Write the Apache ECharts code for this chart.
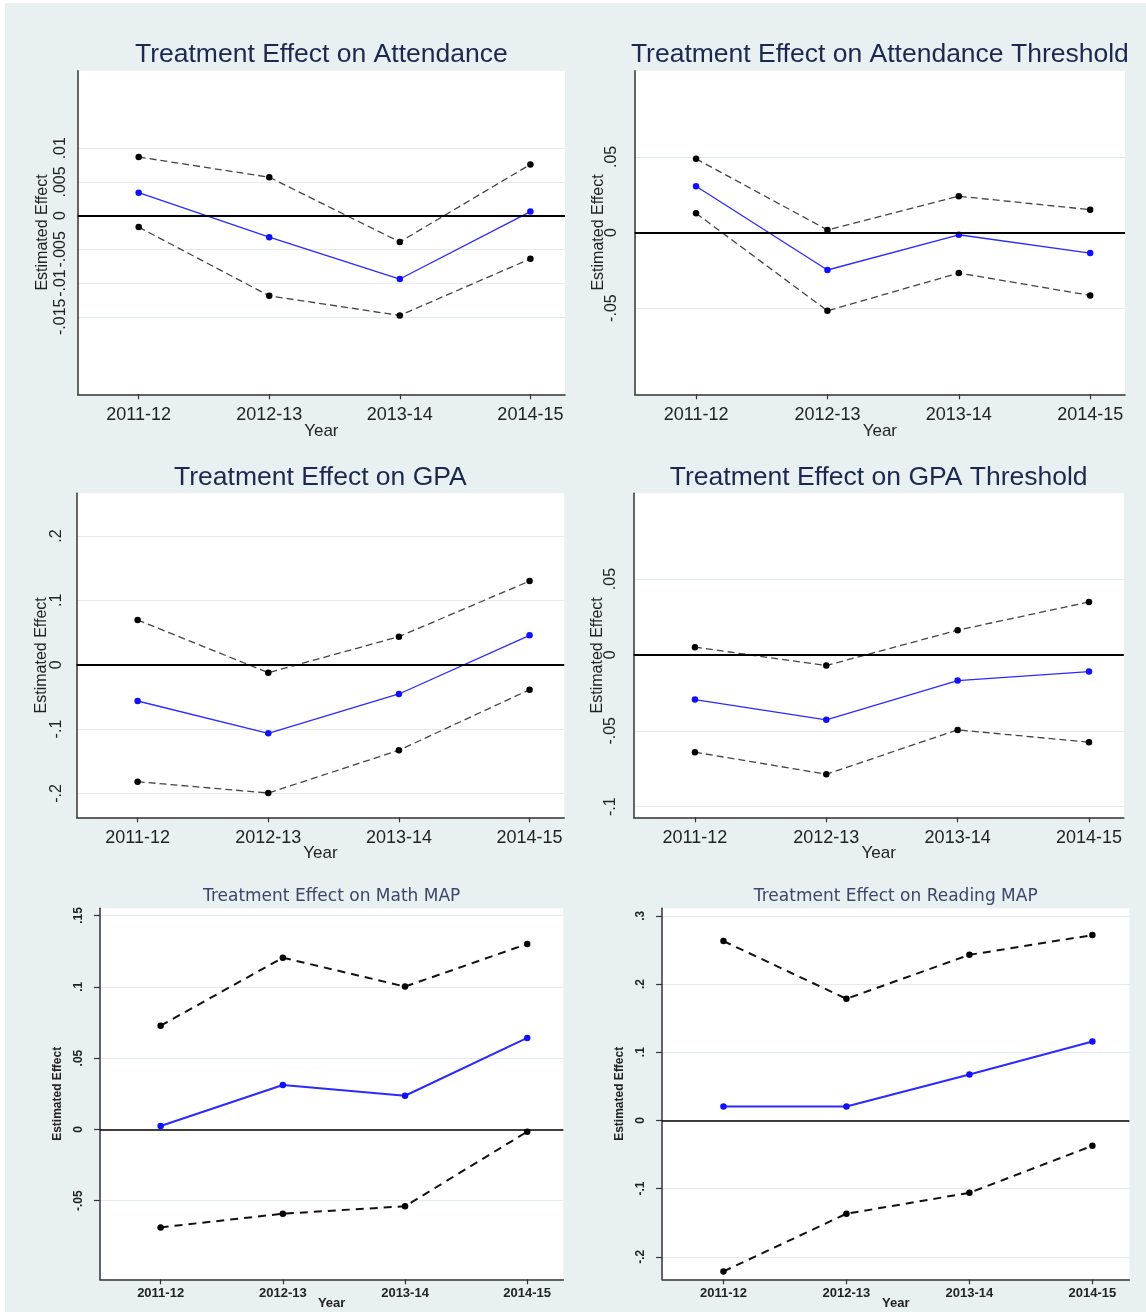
<!DOCTYPE html>
<html>
<head>
<meta charset="utf-8">
<title>Treatment Effects by Year</title>
<script src="https://cdn.jsdelivr.net/npm/echarts@6/dist/echarts.min.js"></script>
<style>
  html, body { margin: 0; padding: 0; background: #ffffff; }
  #wrap { position: relative; width: 1146px; height: 1312px; overflow: hidden; }
  #bg { position: absolute; left: 5px; top: 3px; width: 1141px; height: 1309px; background: #e8f0f2; }
  #chart { position: absolute; left: 0; top: 0; width: 1146px; height: 1312px; }
</style>
</head>
<body>
<div id="wrap"><div id="bg"></div><div id="chart"></div></div>
<script>
// School years on the x axis
const years = ['2011-12', '2012-13', '2013-14', '2014-15'];

// Attendance: point estimate and 95% confidence bounds
const attEst = [0.0034, -0.0032, -0.0094, 0.0006];
const attLo  = [-0.0017, -0.0119, -0.0148, -0.0064];
const attHi  = [0.0087, 0.0057, -0.0039, 0.0076];

// Attendance threshold
const attThrEst = [0.0306, -0.0248, -0.0015, -0.0136];
const attThrLo  = [0.0127, -0.0518, -0.0268, -0.0416];
const attThrHi  = [0.0487, 0.0017, 0.0240, 0.0151];

// GPA
const gpaEst = [-0.0564, -0.1066, -0.0455, 0.0457];
const gpaLo  = [-0.1818, -0.1994, -0.1330, -0.0388];
const gpaHi  = [0.0695, -0.0124, 0.0435, 0.1300];

// GPA threshold
const gpaThrEst = [-0.0294, -0.0428, -0.0169, -0.0110];
const gpaThrLo  = [-0.0641, -0.0786, -0.0494, -0.0575];
const gpaThrHi  = [0.0051, -0.0070, 0.0163, 0.0349];

// Math MAP
const mathEst = [0.0024, 0.0311, 0.0236, 0.0641];
const mathLo  = [-0.0687, -0.0591, -0.0539, -0.0016];
const mathHi  = [0.0727, 0.1204, 0.1001, 0.1300];

// Reading MAP
const readEst = [0.0205, 0.0205, 0.0674, 0.1158];
const readLo  = [-0.2214, -0.1369, -0.1062, -0.0372];
const readHi  = [0.2629, 0.1783, 0.2428, 0.2717];

// Y tick values for each panel
const attTicks    = [-0.015, -0.01, -0.005, 0, 0.005, 0.01];
const attThrTicks = [-0.05, 0, 0.05];
const gpaTicks    = [-0.2, -0.1, 0, 0.1, 0.2];
const gpaThrTicks = [-0.1, -0.05, 0, 0.05];
const mathTicks   = [-0.05, 0, 0.05, 0.1, 0.15];
const readTicks   = [-0.2, -0.1, 0, 0.1, 0.2, 0.3];

// Layout of the six panels (pixels) and their axis extents
const panels = [
  { title: 'Treatment Effect on Attendance', est: attEst, lo: attLo, hi: attHi, ticks: attTicks,
    grid: { left: 77.7, top: 70.7, width: 487.3, height: 323.6 }, xr: [0.533, 4.265], yr: [-0.0265, 0.0215],
    small: false, yLabelMargin: 9, yNameGap: 27, xLabelMargin: 12, xNameGap: 29, titleY: 55 },
  { title: 'Treatment Effect on Attendance Threshold', est: attThrEst, lo: attThrLo, hi: attThrHi, ticks: attThrTicks,
    grid: { left: 634.7, top: 70.7, width: 490.3, height: 323.6 }, xr: [0.533, 4.265], yr: [-0.107, 0.107],
    small: false, yLabelMargin: 15, yNameGap: 28, xLabelMargin: 12, xNameGap: 29, titleY: 55 },
  { title: 'Treatment Effect on GPA', est: gpaEst, lo: gpaLo, hi: gpaHi, ticks: gpaTicks,
    grid: { left: 76.6, top: 493.3, width: 487.6, height: 324 }, xr: [0.533, 4.265], yr: [-0.2371, 0.2663],
    small: false, yLabelMargin: 12, yNameGap: 27, xLabelMargin: 11.5, xNameGap: 28, titleY: 477.5 },
  { title: 'Treatment Effect on GPA Threshold', est: gpaThrEst, lo: gpaThrLo, hi: gpaThrHi, ticks: gpaThrTicks,
    grid: { left: 633.6, top: 493.3, width: 490.2, height: 324 }, xr: [0.533, 4.265], yr: [-0.107, 0.1065],
    small: false, yLabelMargin: 15, yNameGap: 28, xLabelMargin: 11.5, xNameGap: 28, titleY: 477.5 },
  { title: 'Treatment Effect on Math MAP', est: mathEst, lo: mathLo, hi: mathHi, ticks: mathTicks,
    grid: { left: 99.9, top: 908.3, width: 463.5, height: 371 }, xr: [0.503, 4.296], yr: [-0.1051, 0.155],
    small: true, yLabelMargin: 15, yNameGap: 36, xLabelMargin: 7.5, xNameGap: 17.5, titleY: 896.5 },
  { title: 'Treatment Effect on Reading MAP', est: readEst, lo: readLo, hi: readHi, ticks: readTicks,
    grid: { left: 662.1, top: 908.3, width: 467.3, height: 371 }, xr: [0.501, 4.301], yr: [-0.233, 0.311],
    small: true, yLabelMargin: 15, yNameGap: 36, xLabelMargin: 7.5, xNameGap: 17.5, titleY: 896.5 }
];

const FONT = '"Liberation Sans", Arial, sans-serif';
const INK = '#222226';

// Stata-style tick text: no leading zero
function stataNum(v) {
  if (Math.abs(v) < 1e-12) return '0';
  const s = String(+v.toFixed(4));
  return s.replace('0.', '.');
}

function pts(arr) { return arr.map((v, i) => [i + 1, v]); }

const grids = [], xAxes = [], yAxes = [], series = [], graphics = [];

panels.forEach((p, k) => {
  // fixed pixel boxes: keep ECharts from shrinking grids to fit labels
  grids.push(Object.assign({ show: true, backgroundColor: '#ffffff', borderWidth: 0, containLabel: false, outerBoundsMode: 'none' }, p.grid));

  xAxes.push({
    gridIndex: k, type: 'value', min: p.xr[0], max: p.xr[1],
    name: 'Year', nameLocation: 'middle', nameGap: p.xNameGap, nameMoveOverlap: false,
    nameTextStyle: { fontFamily: FONT, fontSize: p.small ? 13 : 17, fontWeight: p.small ? 'bold' : 'normal', color: INK },
    axisLine: { show: true, onZero: false, lineStyle: { color: '#333333', width: 1.5 } },
    axisTick: { show: true, customValues: [1, 2, 3, 4], length: 5, lineStyle: { color: '#333333', width: 1.2 } },
    axisLabel: { customValues: [1, 2, 3, 4], margin: p.xLabelMargin, formatter: v => years[Math.round(v) - 1],
      fontFamily: FONT, fontSize: p.small ? 13 : 18, fontWeight: p.small ? 'bold' : 'normal', color: INK },
    splitLine: { show: false }
  });

  yAxes.push({
    gridIndex: k, type: 'value', min: p.yr[0], max: p.yr[1],
    name: 'Estimated Effect', nameLocation: 'middle', nameGap: p.yNameGap, nameRotate: 90, nameMoveOverlap: false,
    nameTextStyle: p.small
      ? { fontFamily: '"Liberation Sans Narrow", "Liberation Sans", Arial, sans-serif', fontSize: 12, fontWeight: 'bold', color: INK }
      : { fontFamily: FONT, fontSize: 16, color: INK },
    axisLine: { show: true, onZero: false, lineStyle: { color: '#333333', width: 1.5 } },
    axisTick: { show: p.small, customValues: p.ticks, length: 6, lineStyle: { color: '#333333', width: 1.2 } },
    axisLabel: { customValues: p.ticks, rotate: 90, margin: p.yLabelMargin, formatter: stataNum,
      fontFamily: FONT, fontSize: p.small ? 12 : 16, fontWeight: p.small ? 'bold' : 'normal', color: INK },
    splitLine: { show: true, lineStyle: { color: '#e3edf1', width: 1 } }
  });

  const dashCol = p.small ? '#111111' : '#444444';
  const lw = p.small ? 2 : 1.3;
  const dash = p.small ? [8, 6] : [7, 4];
  [p.hi, p.lo].forEach(arr => {
    series.push({
      type: 'line', xAxisIndex: k, yAxisIndex: k, data: pts(arr),
      symbol: 'circle', symbolSize: 6.5, animation: false, silent: true, z: 3,
      lineStyle: { color: dashCol, width: lw, type: dash },
      itemStyle: { color: '#000000' }
    });
  });
  series.push({
    type: 'line', xAxisIndex: k, yAxisIndex: k, data: pts(p.est),
    symbol: 'circle', symbolSize: 6.5, animation: false, silent: true, z: 4,
    lineStyle: { color: '#2a2aff', width: p.small ? 2 : 1.3 },
    itemStyle: { color: '#1010ff' },
    markLine: {
      silent: true, symbol: 'none', animation: false, label: { show: false },
      lineStyle: { color: '#000000', width: p.small ? 1.6 : 2, type: 'solid' },
      data: [{ yAxis: 0 }]
    }
  });

  const cx = p.grid.left + p.grid.width / 2;
  graphics.push({
    type: 'text', x: cx, y: p.titleY, silent: true,
    style: {
      text: p.title,
      font: p.small ? '17px "DejaVu Sans", Verdana, sans-serif' : '26.5px "Liberation Sans", Arial, sans-serif',
      fill: p.small ? '#3c4668' : '#1c2850',
      align: 'center', verticalAlign: 'middle', textAlign: 'center', textVerticalAlign: 'middle'
    }
  });
});

const chart = echarts.init(document.getElementById('chart'), null, { renderer: 'canvas', width: 1146, height: 1312 });
chart.setOption({
  backgroundColor: 'transparent',
  animation: false,
  grid: grids,
  xAxis: xAxes,
  yAxis: yAxes,
  series: series,
  graphic: graphics
});
</script>
</body>
</html>
